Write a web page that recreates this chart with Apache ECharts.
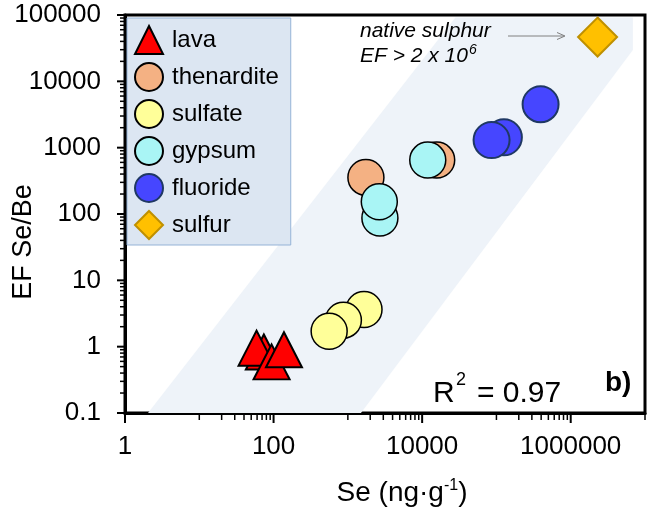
<!DOCTYPE html>
<html><head><meta charset="utf-8">
<script src="https://cdn.jsdelivr.net/npm/echarts@6/dist/echarts.min.js"></script>
<style>html,body{margin:0;padding:0;background:#fff}#c{width:653px;height:513px}</style>
</head><body><div id="c"></div>
<script>
// ---------- data (Se in ng/g, EF Se/Be) ----------
const categories = ['lava', 'thenardite', 'sulfate', 'gypsum', 'fluoride', 'sulfur'];
const lava       = [[74, 0.83], [59, 0.95], [94, 0.59], [138, 0.90]];
const thenardite = [[1750, 356], [15700, 650]];
const sulfate    = [[1650, 3.64], [870, 2.51], [560, 1.71]];
const gypsum     = [[2700, 87], [2650, 153], [11900, 650]];
const fluoride   = [[126000, 1430], [86000, 1300], [393000, 4500]];
const sulfur     = [[2.3e6, 46500]];
const xTickLabels = ['1', '100', '10000', '1000000'];
const yTickLabels = ['0.1', '1', '10', '100', '1000', '10000', '100000'];
// shaded confidence band (data coordinates)
const band = [[2.04, 0.1], [1500, 0.1], [6.87e6, 2.97e4], [6.87e6, 9.2e4], [2.8e4, 9.2e4]];

const FONT = "'Liberation Sans', Arial, sans-serif";
const seriesData = { lava, thenardite, sulfate, gypsum, fluoride, sulfur };
const looks = {
  lava:       { symbol: 'triangle', size: [36, 35], color: '#ff0000', border: '#000000', bw: 2 },
  thenardite: { symbol: 'circle',   size: 36, color: '#f4b183', border: '#000000', bw: 1.5 },
  sulfate:    { symbol: 'circle',   size: 36, color: '#ffff99', border: '#000000', bw: 1.5 },
  gypsum:     { symbol: 'circle',   size: 36, color: '#a9f5f5', border: '#000000', bw: 1.5 },
  fluoride:   { symbol: 'circle',   size: 36, color: '#4646ff', border: '#1f3864', bw: 2 },
  sulfur:     { symbol: 'diamond',  size: 39, color: '#ffc000', border: '#bf9000', bw: 2 }
};

// tick positions (decoration)
const xMajor = [1, 100, 1e4, 1e6];
const xMinor = [];
[10, 1000, 100000].forEach(d => { for (let k = 1; k <= 9; k++) xMinor.push(k * d); });
xMinor.push(1e7);
const yMajor = [0.1, 1, 10, 100, 1000, 10000, 100000];
const yMinor = [];
[0.1, 1, 10, 100, 1000, 10000].forEach(d => { for (let k = 2; k <= 9; k++) yMinor.push(k * d); });

function expLabel(v, list) {
  const e = Math.round(Math.log10(v));
  const s = e < 0 ? '0.' + '0'.repeat(-e - 1) + '1' : '1' + '0'.repeat(e);
  return list.indexOf(s) >= 0 ? s : '';
}

function tickSeries(values, axis, len, width) {
  return {
    type: 'custom', silent: true, z: 6, clip: false,
    data: values.map(v => axis === 'x' ? [v, 0.1] : [1, v]),
    renderItem: (params, api) => {
      const v = values[params.dataIndex];
      if (axis === 'x') {
        const p = api.coord([v, 0.1]);
        return { type: 'line', shape: { x1: p[0], y1: p[1], x2: p[0], y2: p[1] + len }, style: { stroke: '#000', lineWidth: width } };
      }
      const p = api.coord([1, v]);
      return { type: 'line', shape: { x1: p[0], y1: p[1], x2: p[0] - len, y2: p[1] }, style: { stroke: '#000', lineWidth: width } };
    }
  };
}

const ctx = document.createElement('canvas').getContext('2d');
function tw(text, font) { ctx.font = font; return ctx.measureText(text).width; }

const chart = echarts.init(document.getElementById('c'), null, { renderer: 'canvas' });

const series = [];
series.push({
  type: 'custom', silent: true, z: 1, clip: true, data: [[1, 1]],
  renderItem: (params, api) => ({
    type: 'polygon',
    shape: { points: band.map(b => api.coord(b)) },
    style: { fill: '#eef3f9' }
  })
});
categories.forEach(name => {
  const l = looks[name];
  series.push({
    name, type: 'scatter', z: 3, data: seriesData[name],
    symbol: l.symbol, symbolSize: l.size,
    itemStyle: { color: l.color, borderColor: l.border, borderWidth: l.bw, opacity: 1 },
    emphasis: { disabled: true }
  });
});
series.push(tickSeries(xMajor, 'x', 10, 2));
series.push(tickSeries(xMinor, 'x', 7, 1.5));
series.push(tickSeries(yMajor, 'y', 8, 2));
series.push(tickSeries(yMinor, 'y', 5, 1.5));

// x title pieces
const xtFont = "28px 'Liberation Sans', Arial";
const xtSupFont = "16px 'Liberation Sans', Arial";
const w1 = tw('Se (ng·g', xtFont), w2 = tw('-1', xtSupFont), w3 = tw(')', xtFont);
const xt0 = 402 - (w1 + w2 + w3) / 2;
const anFont = "italic 21px 'Liberation Sans', Arial";
const an2w = tw('EF > 2 x 10', anFont);

chart.setOption({
  animation: false,
  backgroundColor: '#fff',
  grid: { left: 125, top: 15, width: 520, height: 398, show: true, borderColor: '#000', borderWidth: 3, backgroundColor: 'transparent' },
  xAxis: {
    type: 'log', min: 1, max: 1e7, logBase: 10,
    axisLine: { show: true, lineStyle: { color: '#000', width: 3 } },
    axisTick: { show: false }, splitLine: { show: false },
    axisLabel: { margin: 21, fontSize: 26, lineHeight: 26, color: '#000', fontFamily: FONT,
      formatter: v => expLabel(v, xTickLabels) }
  },
  yAxis: {
    type: 'log', min: 0.1, max: 1e5, logBase: 10,
    axisLine: { show: true, lineStyle: { color: '#000', width: 3 } },
    axisTick: { show: false }, splitLine: { show: false },
    axisLabel: { margin: 24, fontSize: 26, lineHeight: 26, color: '#000', fontFamily: FONT,
      formatter: v => expLabel(v, yTickLabels) }
  },
  legend: {
    data: categories, orient: 'vertical', left: 127, top: 18, padding: [7, 12, 5, 7],
    itemWidth: 28, itemHeight: 28, itemGap: 7, selectedMode: false,
    backgroundColor: '#dce6f2', borderColor: '#95b3d7', borderWidth: 1,
    textStyle: { fontSize: 24, fontFamily: FONT, color: '#000', lineHeight: 28, padding: [0, 0, 0, 4] }
  },
  series,
  graphic: [
    { type: 'text', x: 24, y: 242, rotation: Math.PI / 2, z: 10,
      style: { text: 'EF Se/Be', font: "27px 'Liberation Sans', Arial", fill: '#000', align: 'center', verticalAlign: 'middle' } },
    { type: 'text', x: xt0, y: 493, z: 10,
      style: { text: 'Se (ng·g', font: xtFont, fill: '#000', align: 'left', verticalAlign: 'middle' } },
    { type: 'text', x: xt0 + w1, y: 486, z: 10,
      style: { text: '-1', font: xtSupFont, fill: '#000', align: 'left', verticalAlign: 'middle' } },
    { type: 'text', x: xt0 + w1 + w2, y: 493, z: 10,
      style: { text: ')', font: xtFont, fill: '#000', align: 'left', verticalAlign: 'middle' } },
    { type: 'text', x: 433, y: 394, z: 10,
      style: { text: 'R', font: "30px 'Liberation Sans', Arial", fill: '#000', align: 'left', verticalAlign: 'middle' } },
    { type: 'text', x: 456, y: 380, z: 10,
      style: { text: '2', font: "18px 'Liberation Sans', Arial", fill: '#000', align: 'left', verticalAlign: 'middle' } },
    { type: 'text', x: 477, y: 394, z: 10,
      style: { text: '= 0.97', font: "30px 'Liberation Sans', Arial", fill: '#000', align: 'left', verticalAlign: 'middle' } },
    { type: 'text', x: 605, y: 383, z: 10,
      style: { text: 'b)', font: "bold 28px 'Liberation Sans', Arial", fill: '#000', align: 'left', verticalAlign: 'middle' } },
    { type: 'text', x: 360, y: 31, z: 10,
      style: { text: 'native sulphur', font: anFont, fill: '#000', align: 'left', verticalAlign: 'middle' } },
    { type: 'text', x: 360, y: 56, z: 10,
      style: { text: 'EF > 2 x 10', font: anFont, fill: '#000', align: 'left', verticalAlign: 'middle' } },
    { type: 'text', x: 360 + an2w + 1, y: 50, z: 10,
      style: { text: '6', font: "italic 14px 'Liberation Sans', Arial", fill: '#000', align: 'left', verticalAlign: 'middle' } },
    { type: 'line', z: 10, shape: { x1: 508, y1: 36, x2: 564, y2: 36 }, style: { stroke: '#808080', lineWidth: 1 } },
    { type: 'polyline', z: 10, shape: { points: [[557, 32.5], [565, 36], [557, 39.5]] }, style: { stroke: '#808080', lineWidth: 1, fill: null } }
  ]
});
</script>
</body></html>
